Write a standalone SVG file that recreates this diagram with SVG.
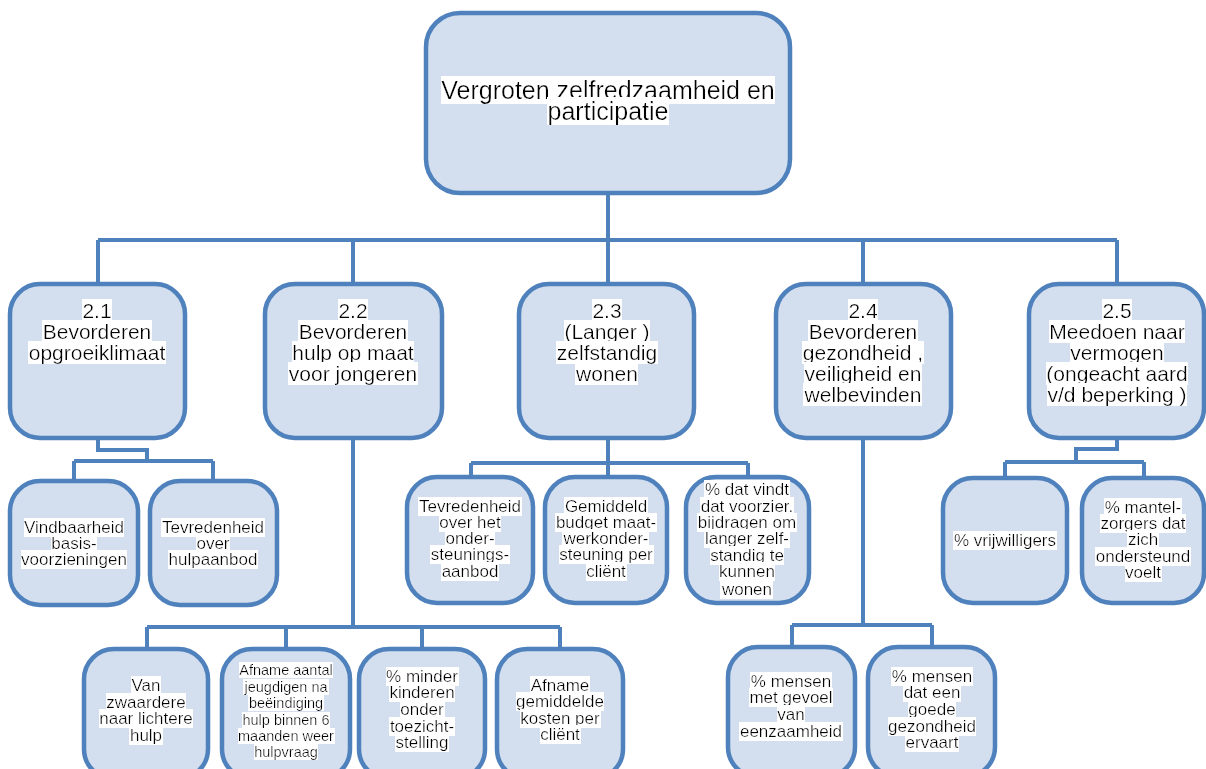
<svg xmlns="http://www.w3.org/2000/svg" width="1206" height="769" viewBox="0 0 1206 769">
<defs>
<filter id="hl" x="0" y="0" width="1" height="1">
<feFlood flood-color="#ffffff" result="f"/>
<feComposite in="SourceGraphic" in2="f" operator="over"/>
</filter>
<style>
.box{fill:#d3dfee;stroke:#4f81bd;stroke-width:4.5}
.con path{fill:none;stroke:#4f81bd;stroke-width:4;stroke-linejoin:miter}
text{font-family:"Liberation Sans",Arial,sans-serif;fill:#000;text-anchor:middle;filter:url(#hl)}
.t0{font-size:25px}
.t1{font-size:21px}
.t2{font-size:17px}
.t3{font-size:14.5px}
</style>
</defs>
<rect width="1206" height="769" fill="#ffffff"/>
<g class="con" id="connectors">
<path d="M608 193V240M98 240H1117M98 240V284M353 240V284M608 240V284M863 240V284M1117 240V284"/>
<path d="M98 438V450H147V461M74 461H213M74 461V481M213 461V481"/>
<path d="M353 438V627M147 627H560M147 627V649M286 627V649M422 627V649M560 627V649"/>
<path d="M608 438V463M471 463H748M471 463V477M608 463V477M748 463V477"/>
<path d="M863 438V625M792 625H932M792 625V647M932 625V647"/>
<path d="M1117 438V449H1076V462M1005 462H1144M1005 462V478M1144 462V478"/>
</g>
<g id="n0"><rect class="box" x="426" y="13" width="364" height="180" rx="34"/>
<text class="t0" x="608" y="99">Vergroten zelfredzaamheid en</text>
<text class="t0" x="608" y="120">participatie</text></g>
<g id="n21"><rect class="box" x="10" y="284" width="175" height="154" rx="30"/>
<text class="t1" x="97" y="318">2.1</text>
<text class="t1" x="97" y="339">Bevorderen</text>
<text class="t1" x="97" y="360">opgroeiklimaat</text></g>
<g id="n22"><rect class="box" x="265" y="284" width="177" height="154" rx="30"/>
<text class="t1" x="353" y="318">2.2</text>
<text class="t1" x="353" y="339">Bevorderen</text>
<text class="t1" x="353" y="360">hulp op maat</text>
<text class="t1" x="353" y="381">voor jongeren</text></g>
<g id="n23"><rect class="box" x="519" y="284" width="175" height="154" rx="30"/>
<text class="t1" x="607" y="318">2.3</text>
<text class="t1" x="607" y="339">(Langer )</text>
<text class="t1" x="607" y="360">zelfstandig</text>
<text class="t1" x="607" y="381">wonen</text></g>
<g id="n24"><rect class="box" x="776" y="284" width="175" height="154" rx="30"/>
<text class="t1" x="863" y="318">2.4</text>
<text class="t1" x="863" y="339">Bevorderen</text>
<text class="t1" x="863" y="360">gezondheid ,</text>
<text class="t1" x="863" y="381">veiligheid en</text>
<text class="t1" x="863" y="402">welbevinden</text></g>
<g id="n25"><rect class="box" x="1029" y="284" width="175" height="154" rx="30"/>
<text class="t1" x="1117" y="318">2.5</text>
<text class="t1" x="1117" y="339">Meedoen naar</text>
<text class="t1" x="1117" y="360">vermogen</text>
<text class="t1" x="1117" y="381">(ongeacht aard</text>
<text class="t1" x="1117" y="402">v/d beperking )</text></g>
<g id="n211"><rect class="box" x="10" y="481" width="128" height="124" rx="30"/>
<text class="t2" x="74" y="533">Vindbaarheid</text>
<text class="t2" x="74" y="549">basis-</text>
<text class="t2" x="74" y="565">voorzieningen</text></g>
<g id="n212"><rect class="box" x="150" y="481" width="127" height="124" rx="30"/>
<text class="t2" x="213" y="533">Tevredenheid</text>
<text class="t2" x="213" y="549">over</text>
<text class="t2" x="213" y="565">hulpaanbod</text></g>
<g id="n221"><rect class="box" x="84" y="649" width="124" height="130" rx="30"/>
<text class="t2" x="146" y="691">Van</text>
<text class="t2" x="146" y="708">zwaardere</text>
<text class="t2" x="146" y="724">naar lichtere</text>
<text class="t2" x="146" y="741">hulp</text></g>
<g id="n222"><rect class="box" x="222" y="649" width="128" height="130" rx="30"/>
<text class="t3" x="286" y="675">Afname aantal</text>
<text class="t3" x="286" y="692">jeugdigen na</text>
<text class="t3" x="286" y="708">beëindiging</text>
<text class="t3" x="286" y="725">hulp binnen 6</text>
<text class="t3" x="286" y="741">maanden weer</text>
<text class="t3" x="286" y="757">hulpvraag</text></g>
<g id="n223"><rect class="box" x="359" y="649" width="126" height="130" rx="30"/>
<text class="t2" x="422" y="682">% minder</text>
<text class="t2" x="422" y="698">kinderen</text>
<text class="t2" x="422" y="715">onder</text>
<text class="t2" x="422" y="732">toezicht-</text>
<text class="t2" x="422" y="748">stelling</text></g>
<g id="n224"><rect class="box" x="497" y="649" width="126" height="130" rx="30"/>
<text class="t2" x="560" y="691">Afname</text>
<text class="t2" x="560" y="707">gemiddelde</text>
<text class="t2" x="560" y="724">kosten per</text>
<text class="t2" x="560" y="740">cliënt</text></g>
<g id="n231"><rect class="box" x="407" y="477" width="126" height="126" rx="30"/>
<text class="t2" x="470" y="512">Tevredenheid</text>
<text class="t2" x="470" y="528">over het</text>
<text class="t2" x="470" y="544">onder-</text>
<text class="t2" x="470" y="560">steunings-</text>
<text class="t2" x="470" y="577">aanbod</text></g>
<g id="n232"><rect class="box" x="545" y="477" width="122" height="126" rx="30"/>
<text class="t2" x="606" y="512">Gemiddeld</text>
<text class="t2" x="606" y="528">budget maat-</text>
<text class="t2" x="606" y="544">werkonder-</text>
<text class="t2" x="606" y="560">steuning per</text>
<text class="t2" x="606" y="577">cliënt</text></g>
<g id="n233"><rect class="box" x="686" y="477" width="123" height="126" rx="30"/>
<text class="t2" x="747" y="495">% dat vindt</text>
<text class="t2" x="747" y="512">dat voorzier.</text>
<text class="t2" x="747" y="528">bijdragen om</text>
<text class="t2" x="747" y="544">langer zelf-</text>
<text class="t2" x="747" y="561">standig te</text>
<text class="t2" x="747" y="577">kunnen</text>
<text class="t2" x="747" y="595">wonen</text></g>
<g id="n241"><rect class="box" x="728" y="647" width="127" height="130" rx="30"/>
<text class="t2" x="791" y="687">% mensen</text>
<text class="t2" x="791" y="703">met gevoel</text>
<text class="t2" x="791" y="720">van</text>
<text class="t2" x="791" y="737">eenzaamheid</text></g>
<g id="n242"><rect class="box" x="868" y="647" width="127" height="130" rx="30"/>
<text class="t2" x="932" y="682">% mensen</text>
<text class="t2" x="932" y="698">dat een</text>
<text class="t2" x="932" y="715">goede</text>
<text class="t2" x="932" y="732">gezondheid</text>
<text class="t2" x="932" y="748">ervaart</text></g>
<g id="n251"><rect class="box" x="943" y="478" width="124" height="125" rx="30"/>
<text class="t2" x="1005" y="546">% vrijwilligers</text></g>
<g id="n252"><rect class="box" x="1082" y="478" width="122" height="125" rx="30"/>
<text class="t2" x="1143" y="513">% mantel-</text>
<text class="t2" x="1143" y="529">zorgers dat</text>
<text class="t2" x="1143" y="545">zich</text>
<text class="t2" x="1143" y="562">ondersteund</text>
<text class="t2" x="1143" y="578">voelt</text></g>
</svg>
